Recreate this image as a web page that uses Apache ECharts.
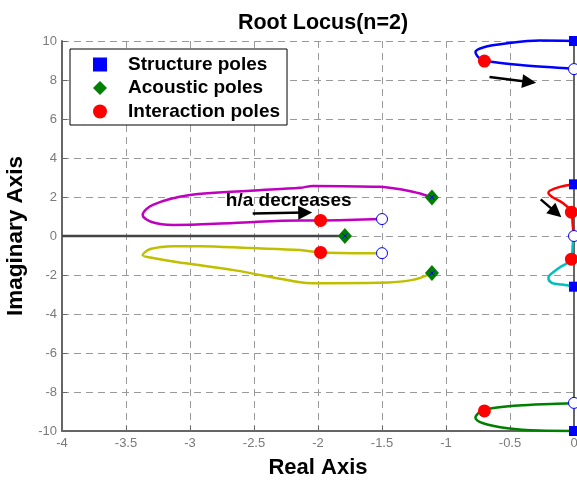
<!DOCTYPE html>
<html><head><meta charset="utf-8">
<script src="https://cdn.jsdelivr.net/npm/echarts@6/dist/echarts.min.js"></script>
<style>html,body{margin:0;padding:0;background:#fff}#c{width:577px;height:480px}</style>
</head><body><div id="c"></div>
<script>
// ---- data ----
const structurePoles = [[0,10],[0,2.65],[0,-2.6],[0,-10]];
const acousticPoles = [[-1.11,1.98],[-1.79,0],[-1.11,-1.9]];
const interactionPoles = [[-0.7,8.97],[-0.02,1.22],[-0.02,-1.19],[-0.7,-8.97],[-1.98,0.8],[-1.98,-0.84]];
const zeros = [[0,8.56],[0,-8.56],[-1.5,0.87],[-1.5,-0.88],[0,0]];
const locusBlue = [[0,10],[-0.27,10.02],[-0.52,9.88],[-0.71,9.67],[-0.77,9.43],[-0.73,9.08],[-0.63,8.92],[-0.4,8.76],[-0.03,8.58],[0,8.56]];
const locusGreen = [[0,-10],[-0.27,-9.98],[-0.52,-9.86],[-0.71,-9.6],[-0.77,-9.32],[-0.73,-9.0],[-0.63,-8.82],[-0.4,-8.68],[-0.03,-8.58],[0,-8.56]];
const locusRed = [[0,2.65],[-0.11,2.52],[-0.19,2.32],[-0.2,2.2],[-0.17,2.0],[-0.09,1.7],[-0.02,1.22],[-0.01,0.57],[0,0]];
const locusCyan = [[0,0],[-0.01,-0.46],[-0.02,-1.19],[-0.11,-1.6],[-0.19,-2.01],[-0.2,-2.16],[-0.17,-2.42],[-0.09,-2.49],[0,-2.6]];
const locusMagenta = [[-1.11,1.98],[-1.26,2.27],[-1.52,2.52],[-2.04,2.57],[-2.14,2.47],[-2.53,2.32],[-3.0,2.1],[-3.29,1.6],[-3.37,1.08],[-3.3,0.72],[-3.13,0.57],[-2.66,0.67],[-2.14,0.8],[-1.98,0.8],[-1.5,0.87]];
const locusYellow = [[-1.11,-1.9],[-1.26,-2.25],[-1.52,-2.4],[-2.04,-2.42],[-2.14,-2.37],[-2.66,-1.75],[-3.05,-1.39],[-3.29,-1.13],[-3.37,-0.98],[-3.31,-0.67],[-3.13,-0.52],[-2.92,-0.52],[-2.53,-0.62],[-2.14,-0.72],[-1.98,-0.84],[-1.5,-0.88]];
const locusReal = [[-4,0],[-1.79,0]];
const arrows = [
  [[-0.66,8.15],[-0.35,7.9]],
  [[-0.26,1.88],[-0.14,1.2]],
  [[-2.51,1.16],[-2.1,1.2]]
];
const annotation = {pos:[-2.72,1.8], text:'h/a decreases'};
const xTickValues = [-4,-3.5,-3,-2.5,-2,-1.5,-1,-0.5,0];
const yTickValues = [-10,-8,-6,-4,-2,0,2,4,6,8,10];
const legendNames = ['Structure poles','Acoustic poles','Interaction poles'];

const FONT = "'Liberation Sans', Arial, sans-serif";
const chart = echarts.init(document.getElementById('c'), null, {renderer:'canvas'});

function locus(data, color){
  return {type:'line', data:data, smooth:0.35, showSymbol:false, symbol:'none', clip:false,
    lineStyle:{color:color, width:2.5, opacity:1}, z:2, silent:true};
}
const gridDash = {show:true, lineStyle:{color:'#9a9a9a', width:1, type:[7,5]}};
const axisLabelStyle = {color:'#7a7a7a', fontSize:13, fontFamily:FONT};

chart.setOption({
  animation:false,
  backgroundColor:'#fff',
  title:{text:'Root Locus(n=2)', left:318, top:7, textAlign:'center',
    textStyle:{fontSize:21.5, fontWeight:'bold', color:'#000', fontFamily:FONT}},
  grid:{left:62, right:3, top:41, bottom:49, outerBoundsMode:'none', containLabel:false},
  xAxis:{type:'value', min:-4, max:0, interval:0.5,
    name:'Real Axis', nameLocation:'middle', nameGap:26,
    nameTextStyle:{fontSize:22, fontWeight:'bold', color:'#000', fontFamily:FONT},
    axisLine:{show:true, onZero:false, lineStyle:{color:'#666', width:2}},
    axisTick:{show:true, inside:true, length:5, lineStyle:{color:'#666'}},
    axisLabel:Object.assign({margin:6, formatter:v=>String(v), hideOverlap:false}, axisLabelStyle),
    splitLine:gridDash},
  yAxis:[{type:'value', min:-10, max:10, interval:2,
    name:'Imaginary Axis', nameLocation:'middle', nameGap:35,
    nameTextStyle:{fontSize:22.5, fontWeight:'bold', color:'#000', fontFamily:FONT},
    axisLine:{show:true, onZero:false, lineStyle:{color:'#666', width:2}},
    axisTick:{show:true, inside:true, length:5, lineStyle:{color:'#666'}},
    axisLabel:Object.assign({margin:5, hideOverlap:false}, axisLabelStyle),
    splitLine:gridDash},
   {type:'value', min:-10, max:10, interval:2, position:'right',
    axisLine:{show:true, onZero:false, lineStyle:{color:'#666', width:2}},
    axisTick:{show:false}, axisLabel:{show:false}, splitLine:{show:false}}],
  legend:{left:70, top:49, orient:'vertical', data:[
      {name:legendNames[0], icon:'rect', itemStyle:{opacity:1}},
      {name:legendNames[1], icon:'diamond', itemStyle:{opacity:1}},
      {name:legendNames[2], icon:'circle', itemStyle:{opacity:1}}],
    padding:[6,7,4,23], itemWidth:14, itemHeight:14, itemGap:4.5,
    borderColor:'#000', borderWidth:1, backgroundColor:'#fff',
    textStyle:{fontSize:19, fontWeight:'bold', color:'#000', fontFamily:FONT, padding:[0,0,0,16], lineHeight:19},
    selectedMode:false},
  series:[
    locus(locusReal,'#444444'),
    locus(locusBlue,'#0000ff'),
    locus(locusGreen,'#007f00'),
    locus(locusRed,'#ff0000'),
    locus(locusCyan,'#00bfbf'),
    locus(locusMagenta,'#bf00bf'),
    locus(locusYellow,'#bfbf00'),
    {type:'lines', coordinateSystem:'cartesian2d', polyline:false, z:3,
      data:arrows.map(a=>({coords:a})), symbol:['none','triangle'], symbolSize:[0,14],
      lineStyle:{color:'#000', width:2.5, opacity:1, curveness:0}, itemStyle:{color:'#000'}, silent:true},
    {type:'scatter', name:'zeros', data:zeros, symbol:'circle', symbolSize:11, clip:false, z:4,
      itemStyle:{color:'#ffffff', borderColor:'#0000ff', borderWidth:1, opacity:1}},
    {type:'scatter', name:legendNames[0], data:structurePoles, symbol:'rect', symbolSize:10, clip:false, z:5,
      itemStyle:{color:'#0000ff', opacity:1}},
    {type:'scatter', name:legendNames[1], data:acousticPoles, symbol:'diamond', symbolSize:[14,16], clip:false, z:5,
      itemStyle:{color:'#008000', opacity:1}},
    {type:'scatter', name:'poleMarks', data:acousticPoles, symbol:'path://M0,0L10,10M10,0L0,10', symbolSize:5, clip:false, z:6,
      itemStyle:{color:'none', borderColor:'#0000ff', borderWidth:1, opacity:1}},
    {type:'scatter', name:legendNames[2], data:interactionPoles, symbol:'circle', symbolSize:13, clip:false, z:5,
      itemStyle:{color:'#ff0000', opacity:1}},
    {type:'scatter', name:'annotation', data:[annotation.pos], symbolSize:0, z:7, silent:true,
      itemStyle:{opacity:1},
      label:{show:true, position:'right', distance:0, formatter:annotation.text, opacity:1,
        fontSize:19, fontWeight:'bold', color:'#000', fontFamily:FONT}}
  ]
});
</script></body></html>
